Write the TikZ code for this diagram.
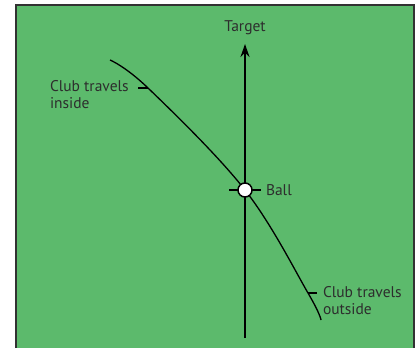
\documentclass[tikz,border=0pt]{standalone}
\usepackage{fontspec}
\setmainfont{PT Sans}
\usepackage{tikz}
\usetikzlibrary{arrows.meta,positioning,calc}
\definecolor{cgrass}{RGB}{92,186,108}
\definecolor{cframe}{RGB}{50,50,50}
\definecolor{ctext}{RGB}{45,45,45}
\tikzset{lbl/.style={inner sep=0pt, outer sep=0pt, text=ctext, font=\fontsize{15.5}{17.5}\selectfont, align=left}}
\tikzset{tick/.style={line width=2pt}}
\tikzset{aim/.style={-{Stealth[length=13pt,width=9pt]}, line width=2pt}}

\begin{document}
\begin{tikzpicture}[x=1pt, y=-1pt]
        \useasboundingbox (0,0) rectangle (419,348);
        
        %%% GRASS %%%
        \fill[cgrass] (16,5) rectangle (414,348);
        \draw[cframe, line width=1.5pt] (16,348) -- (16,5) -- (414,5) -- (414,348);
        
        %%% TARGET LINE %%%
        \coordinate (tail) at (245,338);
        \coordinate (tip) at (245,44);
        \draw[aim] (tail) -- (tip);
        \node[lbl, anchor=base] (target) at (245,31) {Target};
        
        %%% CLUB PATH %%%
        \coordinate (cstart) at (110,60);
        \coordinate (cin) at (148,88);
        \coordinate (ball) at (245,190);
        \coordinate (cout) at (308,293);
        \coordinate (cend) at (321,320);
        \draw[line width=1.3pt] plot[smooth, tension=0.6] coordinates {(cstart) (cin) (ball) (cout) (cend)};
        
        %%% BALL %%%
        \draw[tick] ($(ball)+(-16,0)$) -- ($(ball)+(16,0)$);
        \node[circle, draw, fill=white, line width=1.5pt, minimum size=14pt, inner sep=0pt] (ballc) at (ball) {};
        \node[lbl, anchor=base west] (balllab) at (266,195) {Ball};
        
        %%% LABELS %%%
        \node[lbl, anchor=north west] (inlab) at (50,80) {Club travels\\inside};
        \draw[tick] (cin) -- ++(-10,0);
        \node[lbl, anchor=north west] (outlab) at (323,286) {Club travels\\outside};
        \draw[tick] (cout) -- ++(9,0);
    \end{tikzpicture}
\end{document}
